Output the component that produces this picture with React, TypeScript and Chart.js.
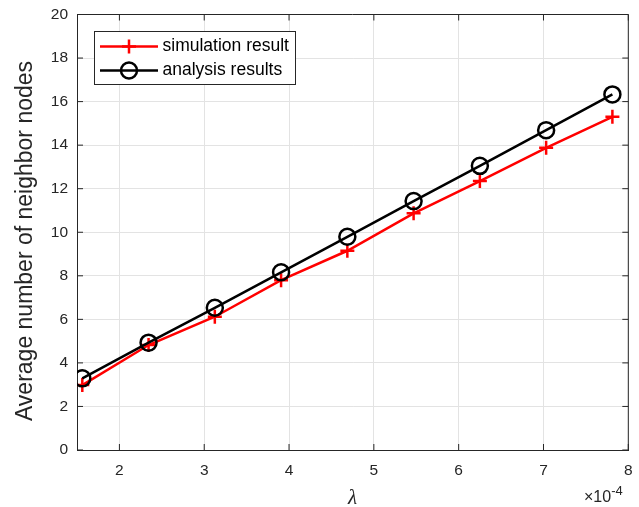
import React, { useEffect, useRef } from 'react';
import { Chart, registerables } from 'chart.js';

Chart.register(...registerables);

// ---- Data ----
const lambdaValues = [1.5625, 2.34375, 3.125, 3.90625, 4.6875, 5.46875, 6.25, 7.03125, 7.8125];
const simulationValues = [2.98, 4.82, 6.12, 7.8, 9.15, 10.87, 12.35, 13.88, 15.3];
const analysisValues = [3.29, 4.93, 6.53, 8.16, 9.79, 11.43, 13.05, 14.69, 16.33];
const xTickValues = [2, 3, 4, 5, 6, 7, 8];
const yTickValues = [0, 2, 4, 6, 8, 10, 12, 14, 16, 18, 20];
const seriesLabels = ['simulation result', 'analysis results'];
const xAxisTitle = 'λ';
const yAxisTitle = 'Average number of neighbor nodes';
const xExponentBase = '×10';
const xExponent = '-4';

const FONT = '"Liberation Sans", Arial, Helvetica, sans-serif';
const TEXT = '#262626';
const AXIS = '#262626';
const GRID = '#e3e3e3';

const framePlugin = {
  id: 'matlabFrame',
  afterDatasetsDraw(chart: any) {
    const { ctx, chartArea } = chart;
    const { left, right, top, bottom } = chartArea;
    const xs = chart.scales.x;
    const ys = chart.scales.y;
    ctx.save();
    // frame
    ctx.strokeStyle = AXIS;
    ctx.lineWidth = 1;
    ctx.beginPath();
    ctx.moveTo(left, top);
    ctx.lineTo(right, top);
    ctx.moveTo(right, top);
    ctx.lineTo(right, bottom);
    ctx.stroke();
    // inner ticks
    const tl = 6;
    ctx.beginPath();
    xTickValues.forEach((v) => {
      const px = xs.getPixelForValue(v);
      ctx.moveTo(px, bottom);
      ctx.lineTo(px, bottom - tl);
      ctx.moveTo(px, top);
      ctx.lineTo(px, top + tl);
    });
    yTickValues.forEach((v) => {
      const py = ys.getPixelForValue(v);
      ctx.moveTo(left, py);
      ctx.lineTo(left + tl, py);
      ctx.moveTo(right, py);
      ctx.lineTo(right - tl, py);
    });
    ctx.stroke();

    // legend
    const lx = 94.5, ly = 31.5, lw = 201, lh = 53;
    ctx.fillStyle = '#ffffff';
    ctx.fillRect(lx, ly, lw, lh);
    ctx.strokeStyle = '#262626';
    ctx.lineWidth = 1;
    ctx.strokeRect(lx, ly, lw, lh);
    const rows = [46.5, 70.5];
    chart.data.datasets.forEach((ds: any, i: number) => {
      const y = rows[i];
      ctx.strokeStyle = ds.borderColor;
      ctx.lineWidth = 2.5;
      ctx.beginPath();
      ctx.moveTo(100, y);
      ctx.lineTo(158, y);
      ctx.stroke();
      const cx = 129;
      ctx.beginPath();
      if (ds.pointStyle === 'cross') {
        ctx.moveTo(cx - 7, y);
        ctx.lineTo(cx + 7, y);
        ctx.moveTo(cx, y - 7);
        ctx.lineTo(cx, y + 7);
      } else {
        ctx.arc(cx, y, 8, 0, Math.PI * 2);
      }
      ctx.stroke();
      ctx.fillStyle = '#000000';
      ctx.font = `17.5px ${FONT}`;
      ctx.textAlign = 'left';
      ctx.textBaseline = 'middle';
      ctx.fillText(ds.label, 162.5, y);
    });

    // y axis title
    ctx.save();
    ctx.translate(26, 241);
    ctx.rotate(-Math.PI / 2);
    ctx.fillStyle = TEXT;
    ctx.font = `23px ${FONT}`;
    ctx.textAlign = 'center';
    ctx.textBaseline = 'middle';
    ctx.fillText(yAxisTitle, 0, 0);
    ctx.restore();

    // exponent label
    ctx.fillStyle = TEXT;
    ctx.textBaseline = 'alphabetic';
    ctx.textAlign = 'left';
    ctx.font = `16px ${FONT}`;
    const baseW = ctx.measureText(xExponentBase).width;
    const ex = 584;
    ctx.fillText(xExponentBase, ex, 502);
    ctx.font = `13px ${FONT}`;
    ctx.fillText(xExponent, ex + baseW, 495);
    ctx.restore();
  },
};

export default function App() {
  const canvasRef = useRef<HTMLCanvasElement | null>(null);

  useEffect(() => {
    const canvas = canvasRef.current;
    if (!canvas) return;
    const chart = new Chart(canvas, {
      type: 'scatter',
      data: {
        datasets: [
          {
            label: seriesLabels[0],
            data: lambdaValues.map((x, i) => ({ x, y: simulationValues[i] })),
            showLine: true,
            borderColor: '#ff0000',
            backgroundColor: 'rgba(0,0,0,0)',
            borderWidth: 2.5,
            pointStyle: 'cross',
            pointRadius: 7,
            pointBorderWidth: 2.5,
            pointBorderColor: '#ff0000',
            order: 1,
          },
          {
            label: seriesLabels[1],
            data: lambdaValues.map((x, i) => ({ x, y: analysisValues[i] })),
            showLine: true,
            borderColor: '#000000',
            backgroundColor: 'rgba(0,0,0,0)',
            borderWidth: 2.5,
            pointStyle: 'circle',
            pointRadius: 8,
            pointBorderWidth: 2.5,
            pointBorderColor: '#000000',
            pointBackgroundColor: 'rgba(0,0,0,0)',
            order: 0,
          },
        ],
      },
      options: {
        animation: false,
        responsive: true,
        maintainAspectRatio: false,
        layout: { autoPadding: false, padding: { left: 0, right: 10.7, top: 14.5, bottom: 0 } },
        plugins: {
          legend: { display: false },
          tooltip: { enabled: false },
          title: { display: false },
        },
        scales: {
          x: {
            type: 'linear',
            min: 1.5,
            max: 8,
            afterBuildTicks: (scale: any) => {
              scale.ticks = xTickValues.map((v) => ({ value: v }));
            },
            afterFit: (scale: any) => {
              scale.height = 57;
              scale.paddingLeft = 0;
              scale.paddingRight = 0;
            },
            grid: { color: GRID, lineWidth: 1, drawTicks: false },
            border: { display: true, color: AXIS, width: 1 },
            ticks: {
              padding: 11,
              color: TEXT,
              font: { family: FONT, size: 15.5 },
              maxRotation: 0,
              callback: (v: any) => String(v),
            },
            title: {
              display: true,
              text: xAxisTitle,
              color: TEXT,
              font: { family: '"Liberation Serif", "DejaVu Serif", serif', size: 21, style: 'italic', lineHeight: 0.8 },
              padding: { top: 0, bottom: 0 },
            },
          },
          y: {
            type: 'linear',
            min: 0,
            max: 20,
            afterBuildTicks: (scale: any) => {
              scale.ticks = yTickValues.map((v) => ({ value: v }));
            },
            afterFit: (scale: any) => {
              scale.width = 77;
              scale.paddingTop = 0;
              scale.paddingBottom = 0;
            },
            grid: { color: GRID, lineWidth: 1, drawTicks: false },
            border: { display: true, color: AXIS, width: 1 },
            ticks: {
              padding: 9,
              color: TEXT,
              font: { family: FONT, size: 15.5 },
              callback: (v: any) => String(v),
            },
            title: { display: false },
          },
        },
      },
      plugins: [framePlugin],
    });
    return () => chart.destroy();
  }, []);

  return (
    <div style={{ position: 'fixed', left: 0, top: 0, width: 639, height: 507, background: '#ffffff' }}>
      <canvas ref={canvasRef} />
    </div>
  );
}
